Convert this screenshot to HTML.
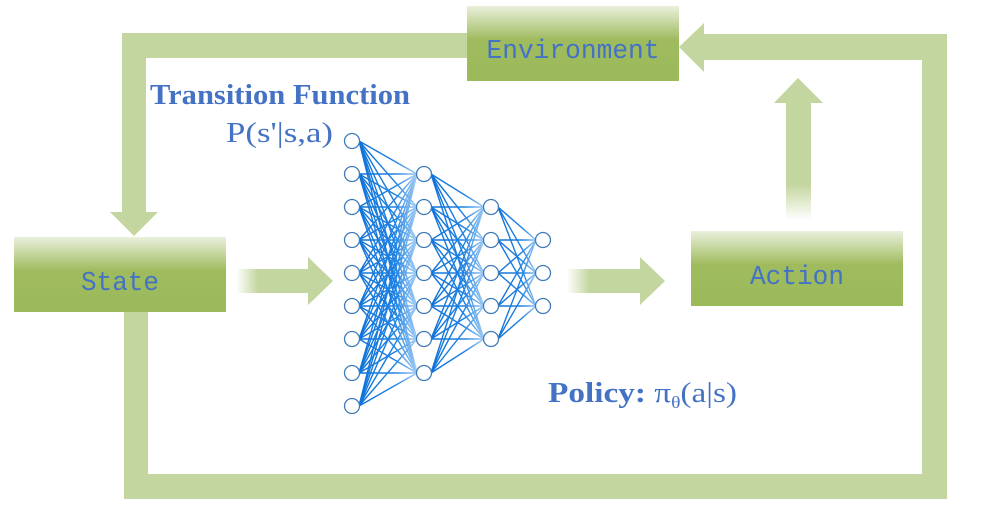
<!DOCTYPE html>
<html><head><meta charset="utf-8"><style>
html,body{margin:0;padding:0;background:#fff;width:984px;height:522px;overflow:hidden}
svg{display:block}
</style></head><body>
<svg id="s" width="984" height="522" viewBox="0 0 984 522" xmlns="http://www.w3.org/2000/svg">
<defs>
<linearGradient id="box" x1="0" y1="0" x2="0" y2="1">
<stop offset="0" stop-color="#eaf0dc"/><stop offset="0.45" stop-color="#9fbb5e"/><stop offset="1" stop-color="#9bba5a"/>
</linearGradient>
<linearGradient id="fadeL" x1="0" y1="0" x2="1" y2="0">
<stop offset="0" stop-color="#c4d6a0" stop-opacity="0"/><stop offset="0.3" stop-color="#c4d6a0" stop-opacity="1"/><stop offset="1" stop-color="#c4d6a0"/>
</linearGradient>
<linearGradient id="fadeU" x1="0" y1="1" x2="0" y2="0">
<stop offset="0" stop-color="#c4d6a0" stop-opacity="0"/><stop offset="0.3" stop-color="#c4d6a0" stop-opacity="1"/><stop offset="1" stop-color="#c4d6a0"/>
</linearGradient>
</defs>
<g fill="#c4d6a0">
<rect x="122" y="33" width="346" height="25"/>
<rect x="122" y="33" width="24" height="180"/>
<polygon points="110,212 158,212 134,236"/>
<rect x="124" y="305" width="24" height="194"/>
<rect x="124" y="474" width="823" height="25"/>
<rect x="922" y="34" width="25" height="465"/>
<rect x="702" y="34" width="245" height="26"/>
<polygon points="679,47 704,23 704,72"/>
<polygon points="798,78 823,103 774,103"/>
<rect x="786" y="102" width="25" height="118" fill="url(#fadeU)"/>
<rect x="236" y="269" width="74" height="24" fill="url(#fadeL)"/>
<polygon points="308,257 333,281 308,305"/>
<rect x="567" y="269" width="75" height="24" fill="url(#fadeL)"/>
<polygon points="640,257 665,281 640,305"/>
</g>
<rect x="467" y="6" width="212" height="75" fill="url(#box)"/>
<rect x="14" y="237" width="212" height="75" fill="url(#box)"/>
<rect x="691" y="231" width="212" height="75" fill="url(#box)"/>
<g font-family="Liberation Mono, monospace" font-size="27" fill="#4472c4" text-anchor="middle">
<text x="573" y="58" textLength="173" lengthAdjust="spacingAndGlyphs">Environment</text>
<text x="120" y="290" textLength="78" lengthAdjust="spacingAndGlyphs">State</text>
<text x="797" y="284" textLength="94" lengthAdjust="spacingAndGlyphs">Action</text>
</g>
<text x="280" y="104" font-family="Liberation Serif, serif" font-weight="bold" font-size="28" fill="#4472c4" text-anchor="middle" textLength="260" lengthAdjust="spacingAndGlyphs">Transition Function</text>
<text x="226" y="142" font-family="Liberation Serif, serif" font-size="28" fill="#4472c4" textLength="107" lengthAdjust="spacingAndGlyphs">P(s'|s,a)</text>
<text x="548" y="402" font-family="Liberation Serif, serif" font-size="29" fill="#4472c4" textLength="189" lengthAdjust="spacingAndGlyphs"><tspan font-weight="bold">Policy:</tspan> π<tspan font-size="17" dy="6">θ</tspan><tspan dy="-6">(a|s)</tspan></text>
<g id="nn"></g>
</svg>
<script>
(function(){
var ns="http://www.w3.org/2000/svg";
var layers=[{x:352,ys:[141,174,207,240,273,306,339,373,406]},
{x:424,ys:[174,207,240,273,306,339,373]},
{x:491,ys:[207,240,273,306,339]},
{x:543,ys:[240,273,306]}];
var svg=document.getElementById('s');var defs=svg.querySelector('defs');var g=document.getElementById('nn');
for(var l=0;l<3;l++){
 var a=layers[l],b=layers[l+1];
 var gr=document.createElementNS(ns,'linearGradient');gr.setAttribute('id','lg'+l);gr.setAttribute('gradientUnits','userSpaceOnUse');
 gr.setAttribute('x1',a.x);gr.setAttribute('x2',b.x);gr.setAttribute('y1',0);gr.setAttribute('y2',0);
 gr.innerHTML='<stop offset="0" stop-color="#0a6fd6"/><stop offset="0.6" stop-color="#1f82e2"/><stop offset="1" stop-color="#cfe6fa"/>';
 defs.appendChild(gr);
 for(var i=0;i<a.ys.length;i++)for(var j=0;j<b.ys.length;j++){
  var ln=document.createElementNS(ns,'line');
  ln.setAttribute('x1',a.x+7);ln.setAttribute('y1',a.ys[i]);ln.setAttribute('x2',b.x-7);ln.setAttribute('y2',b.ys[j]+0.01);
  ln.setAttribute('stroke','url(#lg'+l+')');ln.setAttribute('stroke-width','1.4');g.appendChild(ln);
 }
}
layers.forEach(function(L){L.ys.forEach(function(y){
 var c=document.createElementNS(ns,'circle');c.setAttribute('cx',L.x);c.setAttribute('cy',y);c.setAttribute('r',7.5);
 c.setAttribute('fill','#fff');c.setAttribute('stroke','#3f7bb8');c.setAttribute('stroke-width','1.3');g.appendChild(c);
});});
})();
</script>
</body></html>
